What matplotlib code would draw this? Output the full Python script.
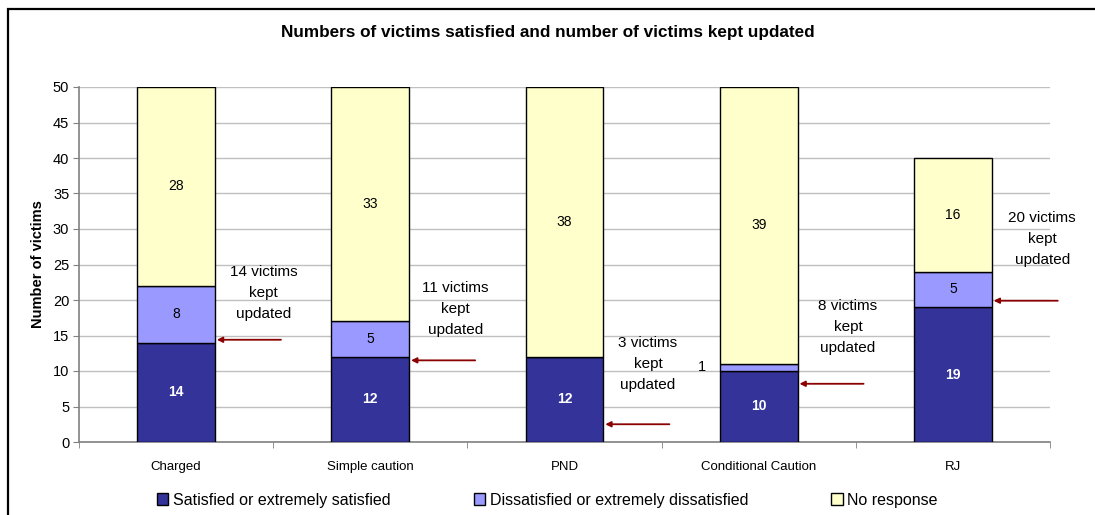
import numpy as np
import matplotlib.pyplot as plt
from matplotlib.patches import Rectangle

plt.rcParams['font.family'] = ['Liberation Sans', 'DejaVu Sans']

categories = ['Charged', 'Simple caution', 'PND', 'Conditional Caution', 'RJ']
satisfied = [14, 12, 12, 10, 19]
dissatisfied = [8, 5, 0, 1, 5]
no_response = [28, 33, 38, 39, 16]
kept_updated = [14, 11, 3, 8, 20]
# where the arrows and notes sit (in data units)
arrow_y = [14.4, 11.5, 2.5, 8.2, 19.9]
note_y = [21.0, 18.7, 11.0, 16.2, 28.6]
note_dx = [0.45, 0.44, 0.43, 0.46, 0.46]

c_sat = '#333399'
c_dis = '#9999ff'
c_no = '#ffffcc'

fig = plt.figure(figsize=(10.95, 5.15), dpi=100)
ax = fig.add_axes([79 / 1095, 73 / 515, (1050 - 79) / 1095, 355 / 515])

x = np.arange(len(categories))
sat = np.array(satisfied)
dis = np.array(dissatisfied)
non = np.array(no_response)
w = 0.4
ax.bar(x, sat, w, color=c_sat, edgecolor='black', linewidth=1, zorder=3,
       label='Satisfied or extremely satisfied')
ax.bar(x, dis, w, bottom=sat, color=c_dis, edgecolor='black', linewidth=1, zorder=3,
       label='Dissatisfied or extremely dissatisfied')
ax.bar(x, non, w, bottom=sat + dis, color=c_no, edgecolor='black', linewidth=1, zorder=3,
       label='No response')

# value labels
for i in range(len(categories)):
    ax.text(x[i], sat[i] / 2, str(sat[i]), ha='center', va='center',
            color='white', fontsize=10, fontweight='bold', zorder=4)
    if dis[i] > 1:
        ax.text(x[i], sat[i] + dis[i] / 2, str(dis[i]), ha='center', va='center',
                fontsize=10, zorder=4)
    elif dis[i] == 1:
        ax.text(x[i] - 0.29, sat[i] + dis[i] / 2, str(dis[i]), ha='center', va='center',
                fontsize=10.5, zorder=4)
    ax.text(x[i], sat[i] + dis[i] + non[i] / 2, str(non[i]), ha='center', va='center',
            fontsize=10, zorder=4)
    # notes and arrows
    ax.text(x[i] + note_dx[i], note_y[i], '%d victims\nkept\nupdated' % kept_updated[i],
            ha='center', va='center', fontsize=11, linespacing=1.65, zorder=4)
    ax.annotate('', xy=(x[i] + w / 2 + 0.01, arrow_y[i]), xytext=(x[i] + 0.54, arrow_y[i]),
                arrowprops=dict(arrowstyle='-|>', color='#8b0000', lw=1.3,
                                mutation_scale=8, shrinkA=0, shrinkB=0), zorder=5)

ax.set_xlim(-0.5, len(categories) - 0.5)
ax.set_ylim(0, 50)
ax.set_yticks(np.arange(0, 51, 5))
ax.yaxis.grid(True, color='#c0c0c0', linewidth=1)
ax.set_axisbelow(True)
for s in ['top', 'right']:
    ax.spines[s].set_visible(False)
for s in ['left', 'bottom']:
    ax.spines[s].set_color('#808080')
    ax.spines[s].set_linewidth(1.2)
ax.set_xticks(x)
ax.set_xticklabels(categories, fontsize=9.5)
ax.set_xticks(np.arange(-0.5, len(categories)), minor=True)
ax.tick_params(axis='x', which='major', length=0, pad=14)
ax.tick_params(axis='x', which='minor', length=4, color='#808080')
ax.tick_params(axis='y', length=4, color='#808080', labelsize=10.5, pad=3)
ax.set_ylabel('Number of victims', fontsize=10.5, fontweight='bold', labelpad=6)

fig.text(0.5, 1 - 33 / 515, 'Numbers of victims satisfied and number of victims kept updated',
         ha='center', va='center', fontsize=12.3, fontweight='bold')

fig.legend(loc='center', bbox_to_anchor=(0.5, 1 - 500 / 515), ncol=3, frameon=False,
           fontsize=11.5, handlelength=0.7, handleheight=0.7, handletextpad=0.3,
           columnspacing=5.2)

# outer chart frame (cropped on the right and bottom)
fig.patches.append(Rectangle((8 / 1095, -0.1), 1.2, 1.1 - 9 / 515, transform=fig.transFigure,
                             fill=False, edgecolor='black', linewidth=1.6))

fig.savefig('out.png', dpi=100)
